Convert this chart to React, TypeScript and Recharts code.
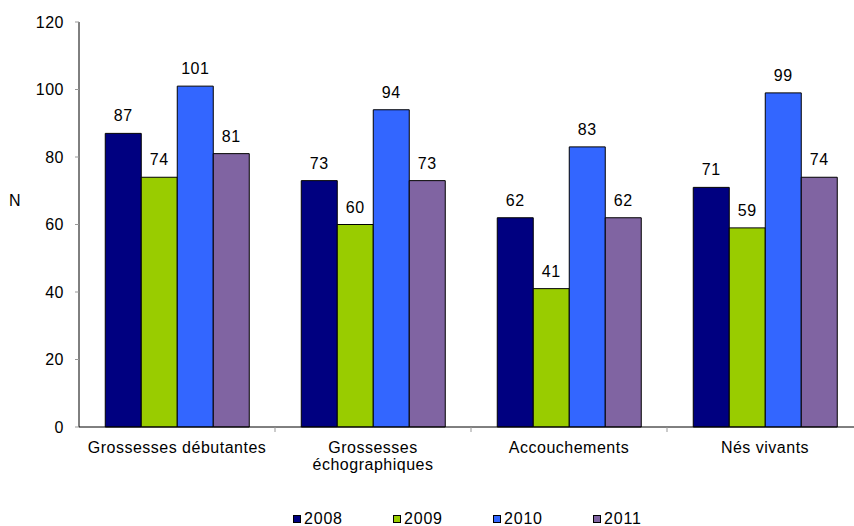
import React from 'react';
import { BarChart, Bar, XAxis, YAxis, LabelList, Legend } from 'recharts';

const categories = ['Grossesses débutantes', 'Grossesses\néchographiques', 'Accouchements', 'Nés vivants'];
const years = ['2008', '2009', '2010', '2011'];
const values2008 = [87, 73, 62, 71];
const values2009 = [74, 60, 41, 59];
const values2010 = [101, 94, 83, 99];
const values2011 = [81, 73, 62, 74];
const yTicks = [0, 20, 40, 60, 80, 100, 120];
const colors = ['#000080', '#99CC00', '#3366FF', '#8064A2'];

const seriesValues = [values2008, values2009, values2010, values2011];
const data = categories.map((c, i) => {
  const row: Record<string, any> = { cat: c };
  years.forEach((y, k) => {
    row['y' + y] = seriesValues[k][i];
  });
  return row;
});

const W = 868;
const H = 526;
const M = { top: 22, right: 5, left: 0, bottom: 0 };
const Y_W = 79;
const FONT = "'Liberation Sans', Arial, sans-serif";
const FS = 16;

const CategoryTick = (props: any) => {
  const { x, y, payload, index } = props;
  const fallback = (W - M.left - M.right - Y_W) / categories.length / 2;
  const half = payload && typeof payload.offset === 'number' && payload.offset > 0 ? payload.offset : fallback;
  const lines = String(payload.value).split('\n');
  return (
    <g>
      {index > 0 && (
        <line x1={x - half} x2={x - half} y1={y} y2={y + 5} stroke="#999" strokeWidth={1} />
      )}
      <text x={x} y={y + 26} textAnchor="middle" fill="#000" fontSize={FS} fontFamily={FONT}>
        {lines.map((l, i) => (
          <tspan key={i} x={x} dy={i === 0 ? 0 : 17}>
            {l}
          </tspan>
        ))}
      </text>
    </g>
  );
};

const LegendContent = () => (
  <div
    style={{
      height: 14,
      display: 'flex',
      alignItems: 'center',
      paddingLeft: 293,
      fontFamily: FONT,
      fontSize: FS,
      letterSpacing: '0.8px',
      color: '#000',
      lineHeight: '14px',
    }}
  >
    {years.map((y, k) => (
      <div key={y} style={{ width: 100, display: 'flex', alignItems: 'center' }}>
        <span
          style={{
            display: 'inline-block',
            width: 8,
            height: 8,
            boxSizing: 'border-box',
            border: '1px solid #000',
            background: colors[k],
            marginRight: 3,
          }}
        />
        <span>{y}</span>
      </div>
    ))}
  </div>
);

export default function App() {
  return (
    <div style={{ width: 854, height: 526, overflow: 'hidden', position: 'relative', fontFamily: FONT }}>
      <style>{`body{margin:0;} svg text{letter-spacing:0.5px;}`}</style>
      <BarChart
        width={W}
        height={H}
        data={data}
        margin={M}
        barGap={0}
        barCategoryGap="13.4%"
      >
        <XAxis
          dataKey="cat"
          axisLine={{ stroke: '#000', strokeWidth: 1 }}
          tickLine={false}
          tickSize={0}
          tickMargin={0}
          height={85}
          interval={0}
          tick={<CategoryTick />}
        />
        <YAxis
          width={Y_W}
          domain={[0, 120]}
          ticks={yTicks}
          interval={0}
          axisLine={{ stroke: '#000', strokeWidth: 1 }}
          tickLine={{ stroke: '#999' }}
          tickSize={4}
          tickMargin={11}
          tick={{ fill: '#000', fontSize: FS, fontFamily: FONT }}
          label={{ value: 'N', position: 'insideLeft', offset: 9, dy: -24, fill: '#000', fontSize: FS, fontFamily: FONT }}
        />
        <Legend verticalAlign="bottom" content={<LegendContent />} wrapperStyle={{ left: 0, width: W }} />
        {years.map((y, k) => (
          <Bar
            key={y}
            dataKey={'y' + y}
            name={y}
            fill={colors[k]}
            stroke="#000"
            strokeWidth={1}
            isAnimationActive={false}
          >
            <LabelList dataKey={'y' + y} position="top" offset={12} fill="#000" fontSize={FS} fontFamily={FONT} />
          </Bar>
        ))}
      </BarChart>
    </div>
  );
}
